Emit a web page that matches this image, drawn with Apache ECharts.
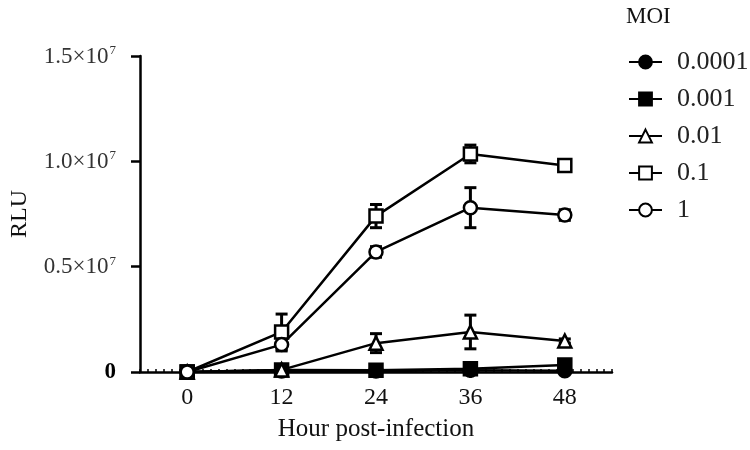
<!DOCTYPE html>
<html>
<head>
<meta charset="utf-8">
<script src="https://cdn.jsdelivr.net/npm/echarts@6/dist/echarts.min.js"></script>
<style>html,body{margin:0;padding:0;background:#fff}#c{width:750px;height:450px}</style>
</head>
<body>
<div id="c"></div>
<script>
var hours = [0, 12, 24, 36, 48];
var moiNames = ['0.0001', '0.001', '0.01', '0.1', '1'];
var rlu_0001 = [0, 50000, 50000, 80000, 60000];
var rlu_001 = [0, 100000, 80000, 150000, 330000];
var rlu_01 = [0, 100000, 1370000, 1900000, 1470000];
var rlu_1 = [0, 1900000, 7400000, 10350000, 9800000];
var rlu_10 = [0, 1300000, 5700000, 7800000, 7450000];
var sd_0001 = [0, 30000, 30000, 50000, 40000];
var sd_001 = [0, 50000, 50000, 80000, 100000];
var sd_01 = [0, 50000, 450000, 800000, 100000];
var sd_1 = [0, 850000, 550000, 420000, 200000];
var sd_10 = [0, 300000, 250000, 950000, 250000];
var yTicks = [0, 5000000, 10000000, 15000000];

var FONT = 'Liberation Serif';
var chart = echarts.init(document.getElementById('c'));

var seriesDefs = [
  {name: moiNames[0], vals: rlu_0001, sd: sd_0001, symbol: 'circle', fill: '#000', size: 13},
  {name: moiNames[1], vals: rlu_001, sd: sd_001, symbol: 'rect', fill: '#000', size: 13},
  {name: moiNames[2], vals: rlu_01, sd: sd_01, symbol: 'triangle', fill: '#fff', size: 13},
  {name: moiNames[3], vals: rlu_1, sd: sd_1, symbol: 'rect', fill: '#fff', size: 13},
  {name: moiNames[4], vals: rlu_10, sd: sd_10, symbol: 'circle', fill: '#fff', size: 13}
];

var series = [];
seriesDefs.forEach(function (d, i) {
  series.push({
    type: 'custom',
    xAxisIndex: 0,
    yAxisIndex: 0,
    silent: true,
    z: 1,
    data: hours.map(function (h, k) { return [h, d.vals[k] - d.sd[k], d.vals[k] + d.sd[k]]; }),
    renderItem: function (params, api) {
      var x = api.value(0);
      var lo = api.coord([x, api.value(1)]);
      var hi = api.coord([x, api.value(2)]);
      var w = 6;
      var st = {stroke: '#000', lineWidth: 3};
      return {
        type: 'group',
        children: [
          {type: 'line', shape: {x1: hi[0], y1: hi[1], x2: lo[0], y2: lo[1]}, style: st},
          {type: 'line', shape: {x1: hi[0] - w, y1: hi[1], x2: hi[0] + w, y2: hi[1]}, style: st},
          {type: 'line', shape: {x1: lo[0] - w, y1: lo[1], x2: lo[0] + w, y2: lo[1]}, style: st}
        ]
      };
    }
  });
});
seriesDefs.forEach(function (d, i) {
  series.push({
    name: d.name,
    type: 'line',
    xAxisIndex: 0,
    yAxisIndex: 0,
    z: 3 + i,
    data: hours.map(function (h, k) { return [h, d.vals[k]]; }),
    symbol: d.symbol,
    symbolSize: d.size,
    showAllSymbol: true,
    animation: false,
    lineStyle: {color: '#000', width: 2.5},
    itemStyle: {color: d.fill, borderColor: '#000', borderWidth: 2.5}
  });
});

function yFmt(v) {
  if (v === 0) return '{z|0}';
  return '{n|' + (v / 1e7).toFixed(1) + '×10}{s|7}';
}

chart.setOption({
  animation: false,
  backgroundColor: '#fff',
  textStyle: {fontFamily: FONT, color: '#000'},
  title: {
    text: 'MOI',
    left: 621,
    top: 0,
    textStyle: {fontFamily: FONT, fontSize: 23, fontWeight: 'normal', color: '#111'}
  },
  legend: {
    data: moiNames,
    orient: 'vertical',
    left: 623,
    top: 44,
    itemWidth: 33,
    itemHeight: 16,
    itemGap: 11,
    textStyle: {fontFamily: FONT, fontSize: 26, color: '#222', lineHeight: 26, padding: [0, 0, 0, 10]},
    selectedMode: false
  },
  grid: {left: 136, right: 138, top: 56, bottom: 78, containLabel: false},
  xAxis: [{
    type: 'value',
    min: -6,
    max: 54,
    name: 'Hour post-infection',
    nameLocation: 'middle',
    nameGap: 45,
    nameTextStyle: {fontFamily: FONT, fontSize: 25, color: '#111'},
    axisLine: {show: true, onZero: false, lineStyle: {color: '#000', width: 2.5}},
    axisTick: {show: true, customValues: hours, length: 6, inside: false, lineStyle: {color: '#000', width: 2.5}},
    axisLabel: {customValues: hours, margin: 14, fontFamily: FONT, fontSize: 24, color: '#111'},
    splitLine: {show: false}
  }, {
    type: 'value',
    min: -6,
    max: 54,
    interval: 1,
    position: 'bottom',
    axisLine: {show: false, onZero: false},
    axisTick: {show: true, inside: true, length: 3, lineStyle: {color: '#000', width: 1.5}},
    axisLabel: {show: false},
    splitLine: {show: false}
  }],
  yAxis: [{
    type: 'value',
    min: 0,
    max: 15000000,
    interval: 5000000,
    name: 'RLU',
    nameLocation: 'middle',
    nameGap: 108,
    nameTextStyle: {fontFamily: FONT, fontSize: 24, color: '#111'},
    axisLine: {show: true, onZero: false, lineStyle: {color: '#000', width: 2.5}},
    axisTick: {show: true, length: 9, lineStyle: {color: '#000', width: 2.5}},
    axisLabel: {
      margin: 24,
      formatter: yFmt,
      rich: {
        n: {fontFamily: FONT, fontSize: 23, color: '#333', lineHeight: 24, verticalAlign: 'bottom'},
        s: {fontFamily: FONT, fontSize: 13, color: '#333', lineHeight: 24, verticalAlign: 'top', padding: [0, 0, 12, 1]},
        z: {fontFamily: FONT, fontSize: 23, fontWeight: 'bold', color: '#000'}
      }
    },
    splitLine: {show: false}
  }],
  series: series
});
</script>
</body>
</html>
